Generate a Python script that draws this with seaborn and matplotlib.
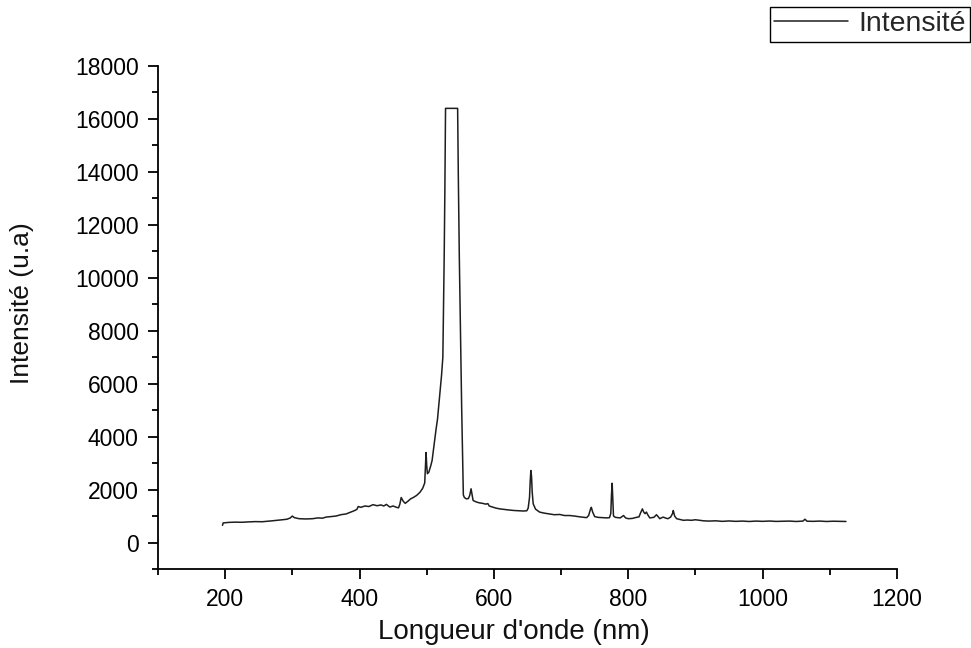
import numpy as np
import pandas as pd
import matplotlib
matplotlib.use("Agg")
import matplotlib.pyplot as plt
from matplotlib.ticker import MultipleLocator
import seaborn as sns

# --- data ---
wavelength = [
    196, 197, 205, 215, 225, 235, 245, 255, 262, 270, 278, 285, 292, 297, 300, 303,
    310, 320, 330, 338, 345, 350, 358, 365, 372, 380, 386, 392, 396, 398, 402, 408,
    414, 420, 426, 432, 436, 440, 445, 450, 455, 458, 460, 462, 465, 468, 472, 476,
    480, 485, 490, 494, 497, 498, 499, 500, 501, 503, 506, 508, 510, 512, 514, 516,
    518, 520, 522, 524, 525, 526, 527, 528, 546, 547, 548.5, 550, 552, 553.5, 554.5,
    556, 559, 562, 564, 566, 567.5, 569, 573, 578, 583, 588, 591, 593, 598, 603, 609,
    615, 622, 630, 638, 644, 649, 651, 653, 654, 655, 656, 657, 658.5, 662, 668, 675,
    683, 690, 698, 705, 713, 720, 728, 735, 738, 741, 744, 745, 747, 750, 755, 762,
    768, 772, 774, 775, 776, 777, 778, 781, 788, 793, 796, 800, 806, 812, 816, 818,
    821, 823, 825, 827, 829, 832, 838, 842, 845, 847, 850, 852, 856, 859, 863, 866,
    867, 869, 872, 877, 882, 888, 894, 900, 906, 912, 920, 930, 940, 950, 960, 970,
    980, 990, 1000, 1010, 1020, 1030, 1040, 1050, 1060, 1063, 1066, 1075, 1085, 1095,
    1105, 1115, 1124,
]
intensity = [
    650, 740, 760, 770, 765, 780, 790, 785, 800, 820, 840, 860, 880, 930, 1000, 940,
    900, 890, 900, 930, 920, 960, 980, 1000, 1050, 1080, 1140, 1200, 1250, 1360, 1330, 1380,
    1360, 1430, 1390, 1420, 1380, 1440, 1340, 1380, 1330, 1310, 1450, 1700, 1560, 1480, 1560, 1650,
    1700, 1780, 1900, 2050, 2250, 2800, 3400, 2900, 2600, 2650, 2900, 3100, 3500, 3900, 4300, 4650,
    5200, 5750, 6300, 7000, 8900, 10800, 13300, 16400, 16400, 13900, 10800, 8300, 5100, 3200, 1800,
    1700, 1650, 1660, 1780, 2030, 1800, 1590, 1540, 1500, 1480, 1450, 1470, 1380, 1340, 1300, 1270,
    1250, 1230, 1210, 1200, 1190, 1200, 1300, 1700, 2300, 2720, 2500, 1900, 1460, 1260, 1150, 1110,
    1080, 1050, 1060, 1020, 1020, 1000, 970, 950, 940, 1020, 1280, 1330, 1150, 980, 950, 940,
    930, 940, 1100, 1800, 2240, 1600, 1000, 950, 930, 1020, 930, 900, 910, 950, 970, 1100,
    1270, 1150, 1090, 1150, 1050, 930, 950, 1050, 960, 900, 940, 960, 920, 900, 960, 1100,
    1210, 1000, 900, 870, 840, 850, 840, 860, 840, 820, 810, 820, 800, 815, 800, 810,
    795, 810, 800, 812, 798, 805, 810, 795, 810, 880, 805, 800, 810, 795,
    805, 798, 795,
]
x_ticks = [200, 400, 600, 800, 1000, 1200]
y_ticks = [0, 2000, 4000, 6000, 8000, 10000, 12000, 14000, 16000, 18000]
x_label = "Longueur d'onde (nm)"
y_label = "Intensité (u.a)"
series_name = "Intensité"

df = pd.DataFrame({"wl": wavelength, "I": intensity})

sns.set_theme(style="ticks")
plt.rcParams["font.family"] = ["Liberation Sans", "DejaVu Sans"]

fig = plt.figure(figsize=(9.71, 6.48), dpi=100)
ax = fig.add_axes([158 / 971, 1 - 569 / 648, (897 - 158) / 971, (569 - 66) / 648])

sns.lineplot(data=df, x="wl", y="I", ax=ax, color="#1e1e1e", linewidth=1.1,
             estimator=None, sort=False, label=series_name, legend=False)

ax.set_xlim(100, 1200)
ax.set_ylim(-1000, 18000)
ax.set_xticks(x_ticks)
ax.set_yticks(y_ticks)
ax.xaxis.set_minor_locator(MultipleLocator(100))
ax.yaxis.set_minor_locator(MultipleLocator(1000))
ax.tick_params(which="major", direction="out", length=7, width=1.3, pad=7,
               labelsize=16.5, colors="black")
ax.tick_params(which="minor", direction="out", length=4.5, width=1.3, colors="black")
for s in ["top", "right"]:
    ax.spines[s].set_visible(False)
for s in ["left", "bottom"]:
    ax.spines[s].set_linewidth(1.3)
    ax.spines[s].set_color("black")

ax.set_xlabel(x_label, fontsize=20, color="#111111")
ax.set_ylabel(y_label, fontsize=19, color="#111111")
ax.xaxis.set_label_coords((514 - 158) / (897 - 158), -(619 - 569) / (569 - 66))
ax.yaxis.set_label_coords(-(158 - 34) / (897 - 158), (569 - 303) / (569 - 66))

handles, labels = ax.get_legend_handles_labels()
leg = fig.legend(handles, labels, loc="upper right",
                 bbox_to_anchor=(970 / 971, 1 - 7 / 648), fontsize=20.5,
                 frameon=True, fancybox=False, shadow=False, framealpha=1,
                 edgecolor="black", handlelength=2.6, handletextpad=0.35,
                 borderpad=0.15, borderaxespad=0)
leg.get_frame().set_linewidth(1.0)

fig.savefig("out.png", dpi=100)
